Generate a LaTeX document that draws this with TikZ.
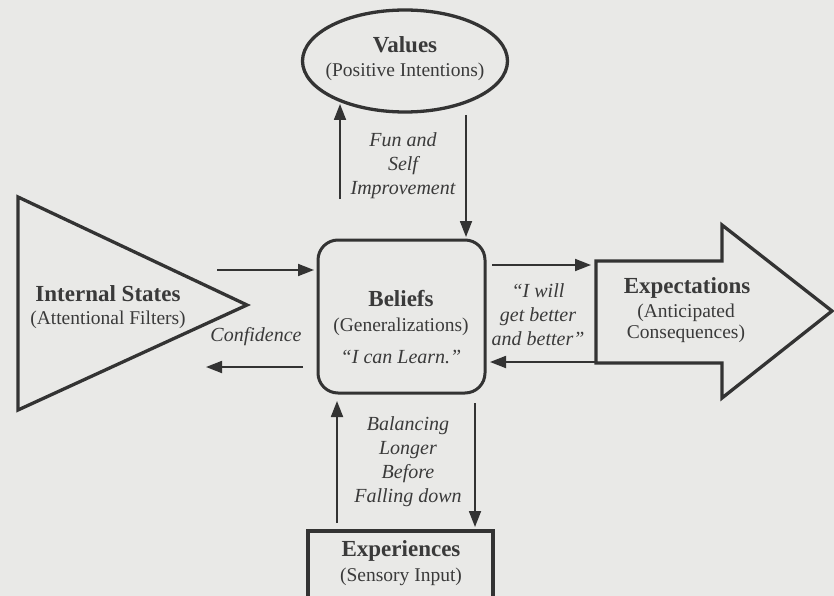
\documentclass[tikz,border=0pt]{standalone}
\usepackage{fontspec}
\setmainfont{Liberation Serif}
\usetikzlibrary{arrows.meta,shapes.geometric}
\definecolor{bg}{HTML}{E9E9E7}
\definecolor{ink}{HTML}{333333}
\definecolor{txt}{HTML}{3A3A3A}
\begin{document}
\begin{tikzpicture}[x=1pt,y=-1pt,
  shapeline/.style={draw=ink,line width=3.3pt,line join=miter},
  conn/.style={draw=ink,line width=1.8pt,-{Triangle[length=16pt,width=12pt]}},
  ttl/.style={font=\fontsize{23}{26}\selectfont\bfseries,text=txt,inner sep=0pt},
  sub/.style={font=\fontsize{19.5}{22}\selectfont,text=txt,inner sep=0pt,align=center},
  lbl/.style={font=\fontsize{20}{24}\selectfont\itshape,text=txt,align=center,inner sep=0pt},
]
\fill[bg] (0,0) rectangle (834,596);
\useasboundingbox (0,0) rectangle (834,596);

% Values ellipse
\node[ellipse,shapeline,minimum width=205pt,minimum height=102pt,inner sep=0pt] (values) at (405,61) {};
\node[ttl] (valuesT) at (405,45) {Values};
\node[sub] (valuesS) at (405,72) {(Positive Intentions)};

% Beliefs box
\node[draw=ink,line width=3pt,rounded corners=20pt,minimum width=167pt,minimum height=153pt,inner sep=0pt] (beliefs) at (401.5,316.5) {};
\node[ttl] (beliefsT) at (401,299) {Beliefs};
\node[sub] (beliefsS) at (401,327) {(Generalizations)};
\node[lbl] (beliefsQ) at (401,357) {\textquotedblleft I can Learn.\textquotedblright};

% Internal states triangle
\coordinate (triA) at (18,197);
\coordinate (triB) at (18,410);
\coordinate (triC) at (247,305);
\draw[shapeline] (triA) -- (triC) -- (triB) -- cycle;
\node[ttl] (intT) at (108,294) {Internal States};
\node[sub] (intS) at (108,320) {(Attentional Filters)};

% Expectations block arrow
\coordinate (e1) at (596,261);
\coordinate (e2) at (722,261);
\coordinate (e3) at (722,225);
\coordinate (e4) at (832,311);
\coordinate (e5) at (722,398);
\coordinate (e6) at (722,363);
\coordinate (e7) at (596,363);
\draw[shapeline] (e1) -- (e2) -- (e3) -- (e4) -- (e5) -- (e6) -- (e7) -- cycle;
\node[ttl] (expT) at (687,288) {Expectations};
\node[sub,font=\fontsize{19.5}{21}\selectfont] (expS) at (686,323.5) {(Anticipated\\Consequences)};

% Experiences box
\draw[draw=ink,line width=4pt] (308,531) rectangle (493,620);
\coordinate (expbox) at (400,531);
\node[ttl] (xpT) at (401,551) {Experiences};
\node[sub] (xpS) at (401,577) {(Sensory Input)};

% connectors: Values <-> Beliefs
\coordinate (vb1) at (340,199);
\coordinate (vb2) at (340,104);
\draw[conn] (vb1) -- (vb2);
\coordinate (vb3) at (466,115);
\coordinate (vb4) at (466,237);
\draw[conn] (vb3) -- (vb4);
\node[lbl] (funL) at (403,166) {Fun and\\Self\\Improvement};

% Internal states <-> Beliefs
\coordinate (ib1) at (217,270);
\coordinate (ib2) at (314,270);
\draw[conn] (ib1) -- (ib2);
\coordinate (ib3) at (303,367);
\coordinate (ib4) at (206,367);
\draw[conn] (ib3) -- (ib4);
\node[lbl] (confL) at (256,337) {Confidence};

% Beliefs <-> Expectations
\coordinate (be1) at (492,265);
\coordinate (be2) at (591,265);
\draw[conn] (be1) -- (be2);
\coordinate (be3) at (596,362);
\coordinate (be4) at (490,362);
\draw[conn] (be3) -- (be4);
\node[lbl] (willL) at (538,315) {\textquotedblleft I will\\get better\\and better\textquotedblright};

% Beliefs <-> Experiences
\coordinate (bx1) at (337,523);
\coordinate (bx2) at (337,401);
\draw[conn] (bx1) -- (bx2);
\coordinate (bx3) at (475,403);
\coordinate (bx4) at (475,527);
\draw[conn] (bx3) -- (bx4);
\node[lbl] (balL) at (408,462) {Balancing\\Longer\\Before\\Falling down};
\end{tikzpicture}
\end{document}
